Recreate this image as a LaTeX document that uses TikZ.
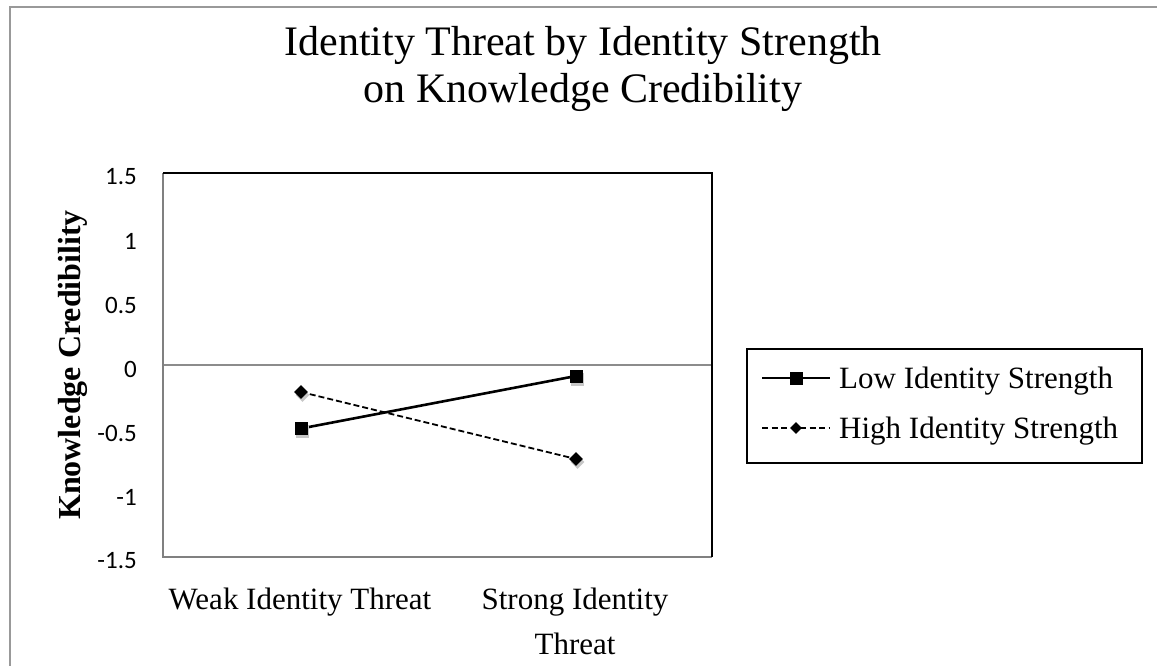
\documentclass[tikz,border=0pt]{standalone}
\usepackage{fontspec}
\setmainfont{Liberation Serif}
\newfontfamily\calib{Carlito}
\usetikzlibrary{shapes.geometric}
\begin{document}
\begin{tikzpicture}[x=1pt,y=-1pt,
  sqmark/.style={rectangle,fill=black,minimum size=13pt,inner sep=0pt},
  dmmark/.style={diamond,fill=black,minimum size=14pt,inner sep=0pt},
  ticklab/.style={anchor=east,inner sep=0pt,font=\calib\fontsize{25}{25}\selectfont},
  catlab/.style={align=center,inner sep=0pt,font=\fontsize{31}{45}\selectfont},
  legtext/.style={anchor=west,inner sep=0pt,font=\fontsize{31}{31}\selectfont},
  lowline/.style={line width=2.6pt,black},
  highline/.style={line width=1.8pt,black,dash pattern=on 6pt off 3pt},
  shadow/.style={fill=black!22}]
\useasboundingbox (0,0) rectangle (1157,666);
% outer chart border
\draw[line width=2pt,black!40] (10,680) -- (10,7) -- (1170,7);
% title
\node[align=center,font=\fontsize{42}{47}\selectfont] (title) at (583,68.5) {Identity Threat by Identity Strength\\on Knowledge Credibility};
% plot area
\coordinate (pTL) at (163,173);
\coordinate (pTR) at (712,173);
\coordinate (pBL) at (163,557);
\coordinate (pBR) at (712,557);
\coordinate (z0) at (163,365);
\coordinate (z1) at (712,365);
\draw[line width=1.5pt,black!45] (z0) -- (z1);
\draw[line width=2pt,black!50] (pTL) -- (pBL) -- (pBR);
\draw[line width=2pt,black] (pTL) -- (pTR) -- (pBR);
% tick labels
\node[ticklab] (t1) at (137,177) {1.5};
\node[ticklab] (t2) at (137,241) {1};
\node[ticklab] (t3) at (137,305) {0.5};
\node[ticklab] (t4) at (137,369) {0};
\node[ticklab] (t5) at (137,433) {-0.5};
\node[ticklab] (t6) at (137,497) {-1};
\node[ticklab] (t7) at (137,561) {-1.5};
% axis title
\node[rotate=90,font=\bfseries\fontsize{32}{32}\selectfont] (ytitle) at (73,365) {Knowledge Credibility};
% category labels
\node[catlab,anchor=base] (c1) at (300,609) {Weak Identity Threat};
\node[catlab,anchor=north] (c2) at (575,587.8) {Strong Identity\\Threat};
% data
\coordinate (l1) at (301,428.5);
\coordinate (l2) at (576,376);
\coordinate (h1) at (301,392);
\coordinate (h2) at (576,459);
\draw[highline] (h1) -- (h2);
\draw[lowline] (l1) -- (l2);
\node[sqmark,shadow] at ([shift={(1.5,3)}]l1) {};
\node[sqmark,shadow] at ([shift={(1.5,3)}]l2) {};
\node[dmmark,shadow] at ([shift={(1.5,3)}]h1) {};
\node[dmmark,shadow] at ([shift={(1.5,3)}]h2) {};
\node[sqmark] (L1) at (l1) {};
\node[sqmark] (L2) at (l2) {};
\node[dmmark] (H1) at (h1) {};
\node[dmmark] (H2) at (h2) {};
% legend
\node[draw=black,line width=1.5pt,minimum width=395pt,minimum height=114pt,inner sep=0pt] (legend) at (944.5,406) {};
\coordinate (la) at (762,378);
\coordinate (lb) at (830,378);
\coordinate (ha) at (762,428);
\coordinate (hb) at (830,428);
\draw[lowline] (la) -- (lb);
\draw[highline,line width=1.6pt,dash pattern=on 6pt off 3.5pt] (ha) -- (hb);
\node[sqmark] (LM) at (796,378) {};
\node[dmmark,minimum size=12pt] (HM) at (796,428) {};
\node[legtext] (lt) at (839,381) {Low Identity Strength};
\node[legtext] (ht) at (839,431) {High Identity Strength};
\end{tikzpicture}
\end{document}
